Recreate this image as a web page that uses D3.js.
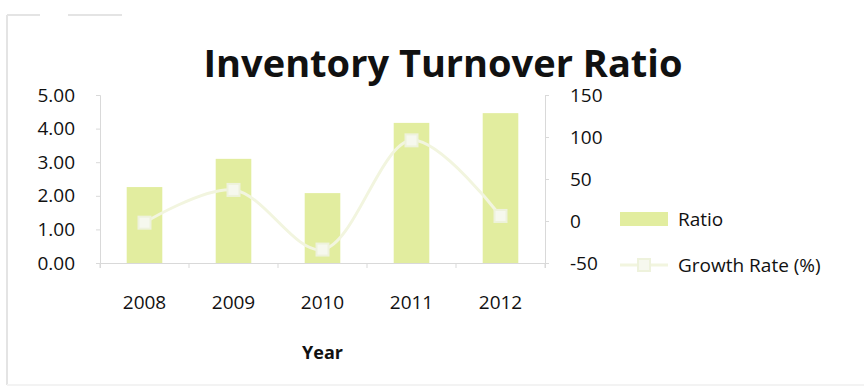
<html>
<head>
<meta charset="utf-8">
<title>Inventory Turnover Ratio</title>
<script src="https://cdn.jsdelivr.net/npm/d3@7/dist/d3.min.js"></script>
<style>
  body { margin: 0; background: #fff; }
  text { font-family: "Open Sans", "Noto Sans", sans-serif; fill: #111; }
</style>
</head>
<body>
<svg id="chart" width="864" height="387"></svg>
<script>
// data
var years = ["2008", "2009", "2010", "2011", "2012"];
var ratio = [2.26, 3.10, 2.08, 4.17, 4.46];
var growth = [-2, 37, -34, 96, 6];
var leftTicks = [0, 1, 2, 3, 4, 5];
var rightTicks = [-50, 0, 50, 100, 150];

var svg = d3.select("#chart"),
    margin = {top: 95, left: 100, right: 319, bottom: 124},
    width = 864 - margin.left - margin.right,
    height = 387 - margin.top - margin.bottom;

var barColor = "#e2ed9f",
    lineColor = "#f2f5df",
    axisColor = "#d9d9d9";

// faint frame from the scan
var frame = svg.append("g").attr("stroke", "#e4e4e4").attr("stroke-width", 2);
frame.append("line").attr("x1", 7).attr("x2", 7).attr("y1", 15).attr("y2", 385);
frame.append("line").attr("x1", 7).attr("x2", 40).attr("y1", 15).attr("y2", 15);
frame.append("line").attr("x1", 68).attr("x2", 122).attr("y1", 15).attr("y2", 15);
frame.append("line").attr("x1", 7).attr("x2", 864).attr("y1", 385).attr("y2", 385).attr("stroke", "#f3f3f3");

var g = svg.append("g").attr("transform", "translate(" + margin.left + "," + margin.top + ")");

var x = d3.scaleBand().domain(years).range([0, width]).paddingInner(0.6).paddingOuter(0.3);
var xLine = d3.scaleBand().domain(years).range([0, width]);
var yL = d3.scaleLinear().domain([0, 5]).range([height, 0]);
var yR = d3.scaleLinear().domain([-50, 150]).range([height, 0]);

// axes
var axL = g.append("g").call(d3.axisLeft(yL).tickValues(leftTicks).tickFormat(d3.format(".2f")).tickSize(4).tickPadding(21));
var axR = g.append("g").attr("transform", "translate(" + width + ",0)")
  .call(d3.axisRight(yR).tickValues(rightTicks).tickFormat(function(d) { return String(d); }).tickSize(4).tickPadding(21));
var axB = g.append("g").attr("transform", "translate(0," + height + ")")
  .call(d3.axisBottom(xLine).tickSize(5).tickPadding(28));
axB.selectAll(".tick line").remove();
// category boundary ticks
g.append("g").selectAll("line").data(d3.range(years.length + 1)).enter().append("line")
  .attr("x1", function(d) { return d * xLine.bandwidth(); })
  .attr("x2", function(d) { return d * xLine.bandwidth(); })
  .attr("y1", height).attr("y2", height + 5)
  .attr("stroke", axisColor);

[axL, axR, axB].forEach(function(a) {
  a.selectAll("path.domain").attr("stroke", axisColor);
  a.selectAll(".tick line").attr("stroke", axisColor);
  a.selectAll("text").attr("font-size", 19).attr("fill", "#111")
    .attr("font-family", "'Open Sans', 'Noto Sans', sans-serif");
});

// bars
g.selectAll(".bar").data(ratio).enter().append("rect")
  .attr("class", "bar")
  .attr("x", function(d, i) { return x(years[i]); })
  .attr("width", x.bandwidth())
  .attr("y", function(d) { return yL(d); })
  .attr("height", function(d) { return height - yL(d); })
  .attr("fill", barColor);

// growth line (smoothed like the original)
var line = d3.line()
  .x(function(d, i) { return xLine(years[i]) + xLine.bandwidth() / 2; })
  .y(function(d) { return yR(d); })
  .curve(d3.curveCatmullRom.alpha(0.5));

g.append("path").datum(growth)
  .attr("d", line)
  .attr("fill", "none")
  .attr("stroke", lineColor)
  .attr("stroke-width", 3);

g.selectAll(".mark").data(growth).enter().append("rect")
  .attr("class", "mark")
  .attr("x", function(d, i) { return xLine(years[i]) + xLine.bandwidth() / 2 - 6; })
  .attr("y", function(d) { return yR(d) - 6; })
  .attr("width", 12).attr("height", 12)
  .attr("fill", "#f6f8ee")
  .attr("stroke", "#eef2dc")
  .attr("stroke-width", 2);

// title and axis title
svg.append("text").attr("x", 443).attr("y", 77)
  .attr("text-anchor", "middle").attr("font-size", 38).attr("font-weight", "bold")
  .text("Inventory Turnover Ratio");
svg.append("text").attr("x", margin.left + width / 2).attr("y", 359)
  .attr("text-anchor", "middle").attr("font-size", 18).attr("font-weight", "bold")
  .text("Year");

// legend
var leg = svg.append("g");
leg.append("rect").attr("x", 620).attr("y", 212).attr("width", 48).attr("height", 14).attr("fill", barColor);
leg.append("text").attr("x", 678).attr("y", 226).attr("font-size", 19).text("Ratio");
leg.append("line").attr("x1", 620).attr("x2", 668).attr("y1", 265).attr("y2", 265)
  .attr("stroke", lineColor).attr("stroke-width", 3);
leg.append("rect").attr("x", 638).attr("y", 259).attr("width", 12).attr("height", 12)
  .attr("fill", "#f6f8ee").attr("stroke", "#eef2dc").attr("stroke-width", 2);
leg.append("text").attr("x", 678).attr("y", 272).attr("font-size", 19).text("Growth Rate (%)");
</script>
</body>
</html>
